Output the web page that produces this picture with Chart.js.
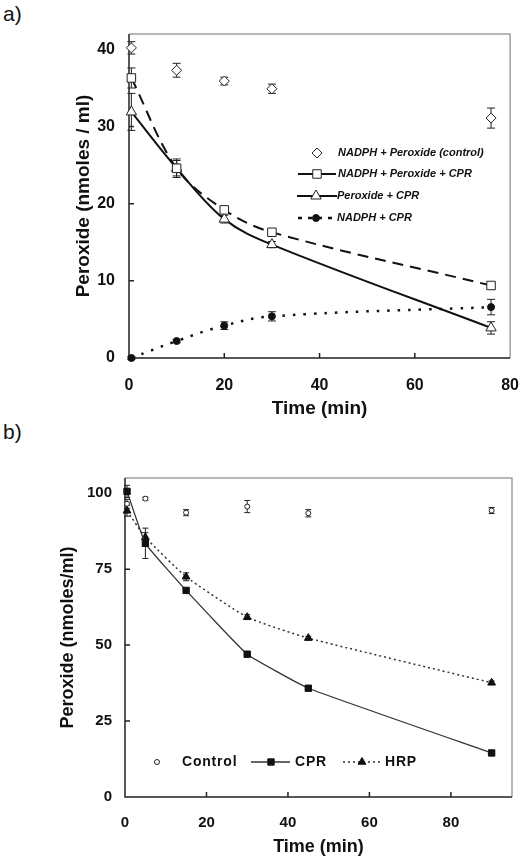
<!DOCTYPE html>
<html>
<head>
<meta charset="utf-8">
<script src="https://cdn.jsdelivr.net/npm/chart.js@4.4.0/dist/chart.umd.min.js"></script>
<style>
body { margin:0; background:#fff; width:529px; height:860px; position:relative; overflow:hidden; font-family:"Liberation Sans", Arial, sans-serif; }
.lbl { position:absolute; left:3px; font-size:21px; color:#111; line-height:24px; }
canvas { position:absolute; left:0; }
</style>
</head>
<body>
<div class="lbl" style="top:2px">a)</div>
<div class="lbl" style="top:420px">b)</div>
<canvas id="chartA" width="529" height="425" style="top:0"></canvas>
<canvas id="chartB" width="529" height="435" style="top:425px"></canvas>
<script>
// panel a data
const timeA = [0.5, 10, 20, 30, 76];
const controlA = [40.2, 37.3, 35.9, 34.9, 31.1];
const controlAErr = [0.8, 0.9, 0.5, 0.6, 1.3];
const nadphPerCprA = [36.3, 24.6, 19.2, 16.3, 9.4];
const nadphPerCprAErr = [1.3, 1.2, 0.4, 0.4, 0.4];
const perCprA = [31.9, 24.6, 18.0, 14.7, 3.9];
const perCprAErr = [2.4, 1.0, 0.5, 0.4, 0.8];
const nadphCprA = [0, 2.2, 4.2, 5.4, 6.6];
const nadphCprAErr = [0.2, 0.2, 0.5, 0.6, 1.0];
const xTicksA = [0, 20, 40, 60, 80];
const yTicksA = [0, 10, 20, 30, 40];

// panel b data
const timeB = [0.5, 5, 15, 30, 45, 90];
const controlB = [96.5, 98.2, 93.6, 95.6, 93.4, 94.3];
const controlBErr = [1.5, 0.5, 1.0, 2.0, 1.2, 1.0];
const cprB = [100.6, 83.5, 68.0, 47.0, 35.8, 14.5];
const cprBErr = [2.0, 5.0, 0.5, 0.6, 0.5, 0.5];
const hrpB = [94.2, 85.5, 72.5, 59.2, 52.3, 37.6];
const hrpBErr = [1.8, 1.5, 1.3, 0.8, 0.6, 0.6];
const xTicksB = [0, 20, 40, 60, 80];
const yTicksB = [0, 25, 50, 75, 100];

const FONT = '"Liberation Sans", Arial, sans-serif';

function makeDs(label, xs, ys, errs, style) {
    return Object.assign({
        label: label,
        data: xs.map((x, i) => ({x: x, y: ys[i]})),
        errors: errs,
        clip: false
    }, style);
}

// error bars drawn through the scales
const errorBars = {
    id: 'errorBars',
    beforeDatasetsDraw(chart, args, opts) {
        const ctx = chart.ctx;
        const xs = chart.scales.x, ys = chart.scales.y;
        ctx.save();
        ctx.strokeStyle = '#222';
        ctx.lineWidth = 1;
        chart.data.datasets.forEach(ds => {
            if (!ds.errors) return;
            ds.data.forEach((p, j) => {
                const e = ds.errors[j];
                if (!e) return;
                const px = xs.getPixelForValue(p.x);
                const top = ys.getPixelForValue(p.y + e);
                const bot = ys.getPixelForValue(p.y - e);
                const c = opts.cap;
                ctx.beginPath();
                ctx.moveTo(px, top); ctx.lineTo(px, bot);
                ctx.moveTo(px - c, top); ctx.lineTo(px + c, top);
                ctx.moveTo(px - c, bot); ctx.lineTo(px + c, bot);
                ctx.stroke();
            });
        });
        ctx.restore();
    }
};

// box: grey top/right, dark axes with inside ticks
const frame = {
    id: 'frame',
    beforeDatasetsDraw(chart, args, opts) {
        const ctx = chart.ctx;
        const a = chart.chartArea;
        const sx = chart.scales.x, sy = chart.scales.y;
        ctx.save();
        ctx.strokeStyle = '#a0a0a0';
        ctx.lineWidth = 1.5;
        ctx.beginPath();
        ctx.moveTo(a.left, a.top); ctx.lineTo(a.right, a.top); ctx.lineTo(a.right, a.bottom);
        ctx.stroke();
        ctx.strokeStyle = '#222';
        ctx.lineWidth = opts.axisWidth;
        ctx.beginPath();
        ctx.moveTo(a.left, a.top); ctx.lineTo(a.left, a.bottom); ctx.lineTo(a.right, a.bottom);
        sx.ticks.forEach(t => {
            const px = sx.getPixelForValue(t.value);
            if (px > a.left + 2 && px < a.right - 2) { ctx.moveTo(px, a.bottom); ctx.lineTo(px, a.bottom - 5); }
        });
        sy.ticks.forEach(t => {
            const py = sy.getPixelForValue(t.value);
            if (py < a.bottom - 2 && py > a.top + 2) { ctx.moveTo(a.left, py); ctx.lineTo(a.left + 5, py); }
        });
        ctx.stroke();
        ctx.restore();
    }
};

// legend drawn inside the plot
const insideLegend = {
    id: 'insideLegend',
    afterDatasetsDraw(chart, args, opts) {
        const ctx = chart.ctx;
        ctx.save();
        opts.items.forEach((it, i) => {
            const ds = chart.data.datasets[i];
            if (it.x1 !== undefined) {
                ctx.beginPath();
                ctx.setLineDash(it.dash || ds.borderDash || []);
                ctx.lineWidth = ds.borderWidth;
                ctx.strokeStyle = ds.borderColor;
                ctx.moveTo(it.x1, it.y); ctx.lineTo(it.x2, it.y);
                ctx.stroke();
            }
            ctx.setLineDash([]);
            ctx.fillStyle = ds.pointBackgroundColor;
            ctx.strokeStyle = ds.pointBorderColor;
            ctx.lineWidth = ds.pointBorderWidth;
            Chart.helpers.drawPoint(ctx, {
                pointStyle: ds.pointStyle, radius: ds.pointRadius,
                borderWidth: ds.pointBorderWidth, rotation: 0
            }, it.mx, it.y);
            ctx.font = opts.font;
            ctx.letterSpacing = opts.spacing || '0px';
            ctx.fillStyle = '#111';
            ctx.textBaseline = 'middle';
            ctx.textAlign = 'left';
            ctx.fillText(ds.label, it.tx, it.y);
        });
        ctx.restore();
    }
};

function axes(xMin, xMax, yMin, yMax, xTicks, yTicks, cfg) {
    return {
        x: {
            type: 'linear', min: xMin, max: xMax,
            afterBuildTicks: s => { s.ticks = xTicks.map(v => ({value: v})); },
            afterFit: s => { s.height = cfg.xH; },
            grid: {display: false}, border: {display: false},
            ticks: {color: '#111', padding: cfg.xPad, font: {family: FONT, size: cfg.tickSize, weight: 'bold'}},
            title: {display: true, text: 'Time (min)', color: '#111',
                font: {family: FONT, size: cfg.xTitleSize, weight: 'bold'},
                padding: {top: 0, bottom: cfg.xTitlePad}}
        },
        y: {
            type: 'linear', min: yMin, max: yMax,
            afterBuildTicks: s => { s.ticks = yTicks.map(v => ({value: v})); },
            afterFit: s => { s.width = cfg.yW; },
            grid: {display: false}, border: {display: false},
            ticks: {color: '#111', padding: cfg.yPad, font: {family: FONT, size: cfg.tickSize, weight: 'bold'}},
            title: {display: true, text: cfg.yTitle, color: '#111',
                font: {family: FONT, size: cfg.yTitleSize, weight: 'bold'},
                padding: {top: cfg.yTitlePad, bottom: 0}}
        }
    };
}

const chartA = new Chart(document.getElementById('chartA'), {
    type: 'scatter',
    data: {
        datasets: [
            makeDs('NADPH + Peroxide (control)', timeA, controlA, controlAErr, {
                showLine: false, pointStyle: 'rectRot', pointRadius: 5,
                pointBackgroundColor: '#fff', pointBorderColor: '#222', pointBorderWidth: 1
            }),
            makeDs('NADPH + Peroxide + CPR', timeA, nadphPerCprA, nadphPerCprAErr, {
                showLine: true, borderColor: '#111', borderWidth: 2, borderDash: [11, 7], tension: 0.35,
                pointStyle: 'rect', pointRadius: 6,
                pointBackgroundColor: '#fff', pointBorderColor: '#222', pointBorderWidth: 1
            }),
            makeDs('Peroxide + CPR', timeA, perCprA, perCprAErr, {
                showLine: true, borderColor: '#111', borderWidth: 2, tension: 0.35,
                pointStyle: 'triangle', pointRadius: 6,
                pointBackgroundColor: '#fff', pointBorderColor: '#222', pointBorderWidth: 1
            }),
            makeDs('NADPH + CPR', timeA, nadphCprA, nadphCprAErr, {
                showLine: true, borderColor: '#111', borderWidth: 2.5, borderDash: [2.5, 8], tension: 0.4,
                pointStyle: 'circle', pointRadius: 3.5,
                pointBackgroundColor: '#111', pointBorderColor: '#111', pointBorderWidth: 1
            })
        ]
    },
    options: {
        responsive: false,
        animation: false,
        layout: {padding: {top: 34, right: 17, left: 0, bottom: 0}},
        plugins: {
            legend: {display: false},
            tooltip: {enabled: false},
            errorBars: {cap: 4},
            frame: {axisWidth: 1.5},
            insideLegend: {
                font: 'italic bold 11px ' + FONT,
                items: [
                    {mx: 317, tx: 338, y: 153},
                    {x1: 298, x2: 336, mx: 317, tx: 338, y: 174, dash: []},
                    {x1: 297, x2: 337, mx: 316, tx: 337, y: 196},
                    {x1: 298, x2: 336, mx: 316, tx: 337, y: 218, dash: [4, 6]}
                ]
            }
        },
        scales: axes(0, 80, 0, 42, xTicksA, yTicksA, {
            xH: 67, yW: 129, xPad: 10, yPad: 6, tickSize: 16,
            xTitleSize: 19, xTitlePad: 5, yTitle: 'Peroxide (nmoles / ml)', yTitleSize: 19, yTitlePad: 72
        })
    },
    plugins: [frame, errorBars, insideLegend]
});

const chartB = new Chart(document.getElementById('chartB'), {
    type: 'scatter',
    data: {
        datasets: [
            makeDs('Control', timeB, controlB, controlBErr, {
                showLine: false, pointStyle: 'circle', pointRadius: 2.5,
                pointBackgroundColor: '#fff', pointBorderColor: '#222', pointBorderWidth: 1
            }),
            makeDs('CPR', timeB, cprB, cprBErr, {
                showLine: true, borderColor: '#333', borderWidth: 1.3, tension: 0.1,
                pointStyle: 'rect', pointRadius: 4.5,
                pointBackgroundColor: '#111', pointBorderColor: '#111', pointBorderWidth: 1
            }),
            makeDs('HRP', timeB, hrpB, hrpBErr, {
                showLine: true, borderColor: '#333', borderWidth: 1.5, borderDash: [2, 3], tension: 0.15,
                pointStyle: 'triangle', pointRadius: 4.5,
                pointBackgroundColor: '#111', pointBorderColor: '#111', pointBorderWidth: 1
            })
        ]
    },
    options: {
        responsive: false,
        animation: false,
        layout: {padding: {top: 53, right: 17, left: 0, bottom: 0}},
        plugins: {
            legend: {display: false},
            tooltip: {enabled: false},
            errorBars: {cap: 3},
            frame: {axisWidth: 1.5},
            insideLegend: {
                font: 'bold 14px ' + FONT,
                spacing: '0.8px',
                items: [
                    {mx: 157, tx: 182, y: 337},
                    {x1: 251, x2: 290, mx: 271, tx: 295, y: 337},
                    {x1: 343, x2: 380, mx: 362, tx: 385, y: 337}
                ]
            }
        },
        scales: axes(0, 95, 0, 105, xTicksB, yTicksB, {
            xH: 63, yW: 125, xPad: 9, yPad: 5, tickSize: 15,
            xTitleSize: 18, xTitlePad: 2, yTitle: 'Peroxide (nmoles/ml)', yTitleSize: 18, yTitlePad: 57
        })
    },
    plugins: [frame, errorBars, insideLegend]
});
</script>
</body>
</html>
